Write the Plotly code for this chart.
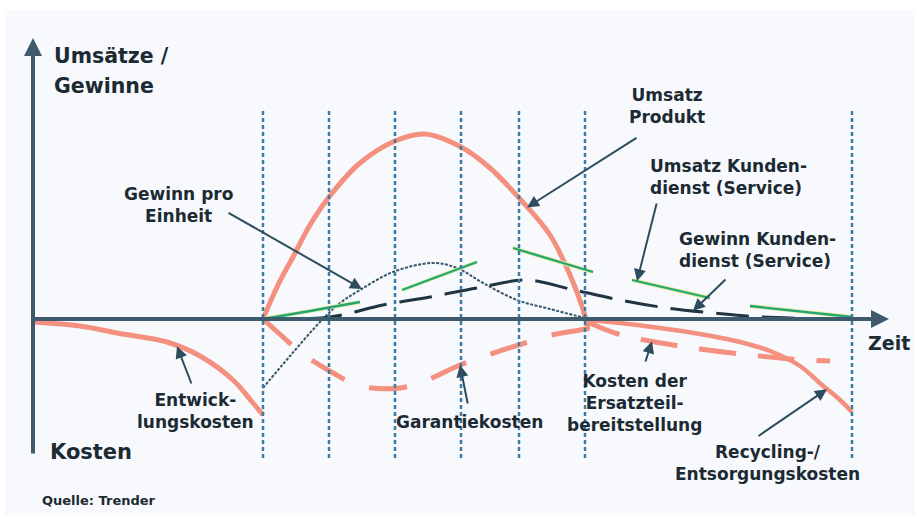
import numpy as np
import plotly.graph_objects as go

# Product life cycle: t = time (arbitrary units, 0 = start of development),
# v = amount (positive: revenue / profit, negative: costs)

# phase boundaries (vertical dotted lines)
phase_bounds = [23.0, 29.6, 36.2, 42.8, 48.6, 55.2, 81.9]

# Entwicklungskosten
entw_t = [0.0, 4.7, 8.4, 13.4, 16.7, 20.0, 22.0, 23.0]
entw_v = [-0.3, -0.7, -1.4, -2.3, -3.7, -6.1, -8.4, -9.6]

# Umsatz Produkt
produkt_t = [23.0, 24.5, 26.0, 27.7, 29.6, 32.7, 36.2, 39.2, 42.8, 45.7, 48.7, 51.7, 53.7, 55.2, 55.5]
produkt_v = [0.0, 3.4, 6.2, 9.4, 12.2, 15.6, 17.8, 18.5, 17.2, 15.1, 12.0, 8.4, 4.4, 0.3, -1.1]

# Garantiekosten
garantie_t = [23.0, 25.0, 26.7, 30.0, 32.7, 36.7, 39.4, 42.7, 45.5, 49.2, 51.9, 54.7, 56.9]
garantie_v = [0.0, -1.8, -3.3, -5.4, -6.7, -6.9, -6.1, -4.6, -3.6, -2.4, -1.6, -1.1, -0.7]

# Kosten der Ersatzteilbereitstellung
ersatz_t = [55.2, 58.5, 62.2, 66.7, 71.7, 75.7, 79.7]
ersatz_v = [-0.2, -1.5, -2.3, -3.0, -3.6, -4.0, -4.2]

# Recycling-/Entsorgungskosten
recycling_t = [55.2, 58.7, 62.7, 66.7, 70.7, 73.7, 76.7, 78.9, 80.7, 81.9]
recycling_v = [-0.1, -0.4, -0.9, -1.5, -2.3, -3.2, -4.7, -6.6, -8.1, -9.3]

# Gewinn pro Einheit
gpe_t = [23.0, 25.7, 28.7, 30.7, 32.7, 36.0, 40.0, 42.4, 45.0, 48.4, 51.7, 55.2]
gpe_v = [-6.9, -3.7, -0.3, 1.6, 2.9, 4.7, 5.6, 5.1, 3.6, 1.9, 1.0, 0.1]

# Gewinn Kundendienst (Service)
gkd_t = [23.0, 29.7, 35.0, 39.7, 44.4, 49.4, 53.7, 58.7, 63.4, 68.0, 72.7, 81.9]
gkd_v = [0.0, 0.2, 1.4, 2.2, 3.1, 3.9, 3.0, 1.9, 1.1, 0.6, 0.2, 0.0]

# Umsatz Kundendienst (Service), one segment per service period
ukd_t = [23.0, 27.7, 32.7, None, 36.9, 44.4, None, 48.0, 56.0, None, 59.9, 67.7, None, 71.7, 81.9]
ukd_v = [0.0, 0.8, 1.7, None, 2.9, 5.7, None, 7.1, 4.7, None, 3.9, 2.1, None, 1.3, 0.2]

SALMON = "#f3907f"
DARK = "#1f3542"
AXIS = "#3d5b6c"
LEADER = "#2d4d5e"
TEXT = "#1b2a33"
FONT = "DejaVu Sans"

fig = go.Figure()


def curve(t, v, color, width, dash="solid"):
    fig.add_trace(go.Scatter(
        x=t, y=v, mode="lines",
        line=dict(color=color, width=width, dash=dash, shape="spline", smoothing=1.0),
        hoverinfo="skip", connectgaps=False,
    ))


curve(entw_t, entw_v, SALMON, 5)
curve(produkt_t, produkt_v, SALMON, 5)
curve(garantie_t, garantie_v, SALMON, 5, "38px,26px")
curve(ersatz_t, ersatz_v, SALMON, 5, "37px,22px")
curve(recycling_t, recycling_v, SALMON, 4.5)
curve(gpe_t, gpe_v, "#34566a", 2, "3px,1.5px")
curve(gkd_t, gkd_v, DARK, 3, "33px,13px")
curve(ukd_t, ukd_v, "#e6ee8f", 4)
curve(ukd_t, ukd_v, "#22a57c", 2.3)

shapes = [
    # panel tint below the white top strip
    dict(type="rect", xref="paper", yref="paper", x0=5 / 915, x1=1, y0=0, y1=1 - 10 / 515,
         fillcolor="#f8f9fc", line=dict(width=0), layer="below"),
]
for tb in phase_bounds:
    shapes.append(dict(type="line", xref="x", yref="y", x0=tb, x1=tb, y0=-13.9, y1=21.1,
                       line=dict(color="#3a7ca5", width=2.5, dash="4px,3px"), layer="above"))

annotations = []

# coordinate axes with arrow heads
annotations.append(dict(x=0, y=28.1, ax=0, ay=-13.6, xref="x", yref="y", axref="x", ayref="y",
                        text="", showarrow=True, arrowhead=2, arrowsize=0.9, arrowwidth=4,
                        arrowcolor=AXIS))
annotations.append(dict(x=85.6, y=0, ax=0, ay=0, xref="x", yref="y", axref="x", ayref="y",
                        text="", showarrow=True, arrowhead=2, arrowsize=0.9, arrowwidth=4,
                        arrowcolor=AXIS))


def leader(tail, head_t, series_t, series_v):
    # leader line from a label to a point on a curve
    st = [a for a in series_t if a is not None]
    sv = [b for b in series_v if b is not None]
    head_v = float(np.interp(head_t, st, sv))
    annotations.append(dict(x=head_t, y=head_v, ax=tail[0], ay=tail[1],
                            xref="x", yref="y", axref="x", ayref="y",
                            text="", showarrow=True, arrowhead=2, arrowsize=1.2,
                            arrowwidth=2, arrowcolor=LEADER))


leader((60.5, 18.2), 49.4, produkt_t, produkt_v)
leader((19.4, 10.7), 32.9, gpe_t, gpe_v)
leader((15.9, -6.6), 14.4, entw_t, entw_v)
leader((43.5, -8.6), 42.7, garantie_t, garantie_v)
leader((62.4, 11.7), 60.4, ukd_t[9:12], ukd_v[9:12])
leader((69.4, 4.1), 66.0, gkd_t, gkd_v)
leader((61.2, -4.4), 61.9, ersatz_t, ersatz_v)
leader((72.4, -11.8), 79.4, recycling_t, recycling_v)


def label(text, t, v, size=17, xanchor="center", align="center"):
    annotations.append(dict(x=t, y=v, xref="x", yref="y", text=text, showarrow=False,
                            xanchor=xanchor, yanchor="middle", align=align,
                            font=dict(family=FONT, size=size, color=TEXT)))


label("<b>Umsätze /</b>", 1.9, 26.3, 20.5, "left", "left")
label("<b>Gewinne</b>", 1.9, 23.3, 20.5, "left", "left")
label("<b>Kosten</b>", 1.5, -13.3, 21, "left", "left")
label("<b>Zeit</b>", 87.9, -2.4, 19, "right", "right")
label("<b>Quelle: Trender</b>", 0.7, -18.1, 13, "left", "left")

label("<b>Umsatz<br>Produkt</b>", 63.4, 21.3)
label("<b>Umsatz Kunden-<br>dienst (Service)</b>", 61.5, 14.2, 17, "left", "left")
label("<b>Gewinn Kunden-<br>dienst (Service)</b>", 64.4, 6.9, 17, "left", "left")
label("<b>Gewinn pro<br>Einheit</b>", 14.5, 11.4)
label("<b>Entwick-<br>lungskosten</b>", 16.2, -9.2)
label("<b>Garantiekosten</b>", 43.6, -10.3)
label("<b>Kosten der<br>Ersatzteil-<br>bereitstellung</b>", 60.1, -8.4)
label("<b>Recycling-/<br>Entsorgungskosten</b>", 73.4, -14.4)

fig.update_layout(
    width=915, height=515, autosize=False,
    margin=dict(l=0, r=0, t=0, b=0),
    paper_bgcolor="white", plot_bgcolor="rgba(0,0,0,0)",
    showlegend=False,
    xaxis=dict(range=[-3.3, 88.2], visible=False, fixedrange=True),
    yaxis=dict(range=[-19.6, 31.9], visible=False, fixedrange=True),
    shapes=shapes, annotations=annotations,
    hovermode=False,
)

fig.write_html("out.html", config={"displayModeBar": False})
